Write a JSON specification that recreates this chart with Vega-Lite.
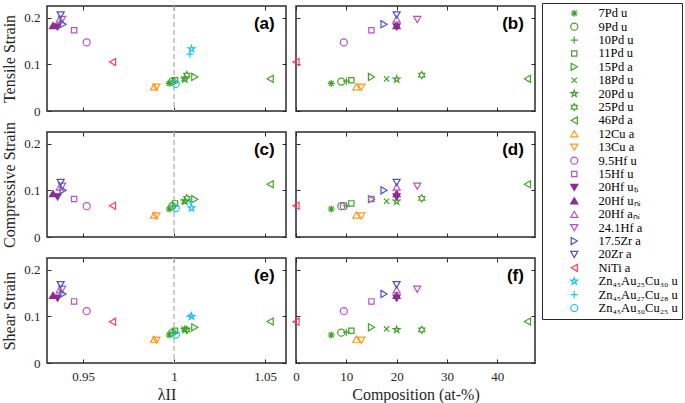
{
  "$schema": "https://vega.github.io/schema/vega-lite/v6.json",
  "padding": {"left": 0, "top": 2, "right": 0, "bottom": 0},
  "background": "white",
  "data": {"values": [
    {"series": "7Pd u", "lambda": 0.9973, "comp": 7, "tensile": 0.059, "compressive": 0.060, "shear": 0.060},
    {"series": "9Pd u", "lambda": 0.9990, "comp": 9, "tensile": 0.063, "compressive": 0.066, "shear": 0.065},
    {"series": "10Pd u", "lambda": 0.9995, "comp": 10, "tensile": 0.064, "compressive": 0.067, "shear": 0.066},
    {"series": "11Pd u", "lambda": 1.0005, "comp": 11, "tensile": 0.066, "compressive": 0.072, "shear": 0.069},
    {"series": "15Pd a", "lambda": 1.0114, "comp": 15, "tensile": 0.073, "compressive": 0.081, "shear": 0.0765},
    {"series": "18Pd u", "lambda": 1.0055, "comp": 18, "tensile": 0.069, "compressive": 0.0765, "shear": 0.073},
    {"series": "20Pd u", "lambda": 1.006, "comp": 20, "tensile": 0.068, "compressive": 0.0765, "shear": 0.0715},
    {"series": "25Pd u", "lambda": 1.007, "comp": 25, "tensile": 0.077, "compressive": 0.083, "shear": 0.071},
    {"series": "46Pd a", "lambda": 1.0528, "comp": 46, "tensile": 0.069, "compressive": 0.113, "shear": 0.089},
    {"series": "12Cu a", "lambda": 0.989, "comp": 12, "tensile": 0.052, "compressive": 0.047, "shear": 0.051},
    {"series": "13Cu a", "lambda": 0.9903, "comp": 13, "tensile": 0.051, "compressive": 0.045, "shear": 0.049},
    {"series": "9.5Hf u", "lambda": 0.952, "comp": 9.5, "tensile": 0.147, "compressive": 0.066, "shear": 0.111},
    {"series": "15Hf u", "lambda": 0.9451, "comp": 15, "tensile": 0.173, "compressive": 0.0815, "shear": 0.132},
    {"series": "20Hf uₜᵢ", "lambda": 0.936, "comp": 20, "tensile": 0.180, "compressive": 0.086, "shear": 0.139},
    {"series": "20Hf uₙᵢ", "lambda": 0.9335, "comp": 20, "tensile": 0.183, "compressive": 0.093, "shear": 0.145},
    {"series": "20Hf aₙᵢ", "lambda": 0.9372, "comp": 20, "tensile": 0.197, "compressive": 0.107, "shear": 0.157},
    {"series": "24.1Hf a", "lambda": 0.9385, "comp": 24.1, "tensile": 0.196, "compressive": 0.109, "shear": 0.158},
    {"series": "17.5Zr a", "lambda": 0.939, "comp": 17.5, "tensile": 0.186, "compressive": 0.100, "shear": 0.148},
    {"series": "20Zr a", "lambda": 0.9377, "comp": 20, "tensile": 0.206, "compressive": 0.117, "shear": 0.168},
    {"series": "NiTi a", "lambda": 0.9662, "comp": 0, "tensile": 0.105, "compressive": 0.067, "shear": 0.0886},
    {"series": "Zn₄₅Au₂₅Cu₃₀ u", "lambda": 1.0096, "comp": null, "tensile": 0.133, "compressive": 0.062, "shear": 0.100},
    {"series": "Zn₄₅Au₂₇Cu₂₈ u", "lambda": 1.0088, "comp": null, "tensile": 0.122, "compressive": 0.076, "shear": 0.100},
    {"series": "Zn₄₅Au₃₀Cu₂₅ u", "lambda": 1.001, "comp": null, "tensile": 0.058, "compressive": 0.062, "shear": 0.061}
  ]},
  "spacing": 1,
  "hconcat": [
    {
      "spacing": 21,
      "bounds": "flush",
      "vconcat": [
        {
          "width": 239, "height": 105,
          "layer": [
            {"data": {"values": [{}]}, "mark": {"type": "rule", "color": "#bcbcbc", "strokeWidth": 1.5, "strokeDash": [5, 3]},
             "encoding": {"x": {"datum": 1, "type": "quantitative", "scale": {"domain": [0.9302, 1.0615], "nice": false, "zero": false}, "axis": null}}},
            {"mark": {"type": "point", "size": 50, "strokeWidth": 1.2, "opacity": 1},
             "encoding": {
               "x": {"field": "lambda", "type": "quantitative", "scale": {"domain": [0.9302, 1.0615], "nice": false, "zero": false}, "axis": {"values": [0.95, 1, 1.05], "labels": false, "title": null}},
               "y": {"field": "tensile", "type": "quantitative", "scale": {"domain": [0, 0.225], "nice": false}, "axis": {"values": [0, 0.1, 0.2], "format": "~g", "title": "Tensile Strain"}},
               "shape": {"field": "series", "type": "nominal", "scale": {"domain": ["7Pd u","9Pd u","10Pd u","11Pd u","15Pd a","18Pd u","20Pd u","25Pd u","46Pd a","12Cu a","13Cu a","9.5Hf u","15Hf u","20Hf uₜᵢ","20Hf uₙᵢ","20Hf aₙᵢ","24.1Hf a","17.5Zr a","20Zr a","NiTi a","Zn₄₅Au₂₅Cu₃₀ u","Zn₄₅Au₂₇Cu₂₈ u","Zn₄₅Au₃₀Cu₂₅ u"], "range": ["M-1,0L1,0M0,-1L0,1M-0.7,-0.7L0.7,0.7M-0.7,0.7L0.7,-0.7","circle","M-1,0L1,0M0,-1L0,1","M-0.75,-0.75L0.75,-0.75L0.75,0.75L-0.75,0.75Z","triangle-right","M-0.75,-0.75L0.75,0.75M-0.75,0.75L0.75,-0.75","M0,-1L0.225,-0.309L0.951,-0.309L0.363,0.118L0.588,0.809L0,0.382L-0.588,0.809L-0.363,0.118L-0.951,-0.309L-0.225,-0.309Z","M0,-1L0.289,-0.5L0.866,-0.5L0.577,0L0.866,0.5L0.289,0.5L0,1L-0.289,0.5L-0.866,0.5L-0.577,0L-0.866,-0.5L-0.289,-0.5Z","triangle-left","triangle-up","triangle-down","circle","M-0.75,-0.75L0.75,-0.75L0.75,0.75L-0.75,0.75Z","triangle-down","triangle-up","triangle-up","triangle-down","triangle-right","triangle-down","triangle-left","M0,-1L0.225,-0.309L0.951,-0.309L0.363,0.118L0.588,0.809L0,0.382L-0.588,0.809L-0.363,0.118L-0.951,-0.309L-0.225,-0.309Z","M-1,0L1,0M0,-1L0,1","circle"]},
                 "legend": {"title": null, "orient": "none", "legendX": 495, "legendY": -3, "padding": 4, "symbolOffset": 22, "labelOffset": 18, "rowPadding": 0.4, "labelFont": "Liberation Serif", "labelFontSize": 12.5, "labelColor": "#000000", "symbolSize": 50, "symbolStrokeWidth": 1.2, "strokeColor": "#262626", "fillColor": "#ffffff", "symbolLimit": 50, "labelLimit": 200}},
               "stroke": {"field": "series", "type": "nominal", "scale": {"domain": ["7Pd u","9Pd u","10Pd u","11Pd u","15Pd a","18Pd u","20Pd u","25Pd u","46Pd a","12Cu a","13Cu a","9.5Hf u","15Hf u","20Hf uₜᵢ","20Hf uₙᵢ","20Hf aₙᵢ","24.1Hf a","17.5Zr a","20Zr a","NiTi a","Zn₄₅Au₂₅Cu₃₀ u","Zn₄₅Au₂₇Cu₂₈ u","Zn₄₅Au₃₀Cu₂₅ u"], "range": ["#43a42b","#43a42b","#43a42b","#43a42b","#43a42b","#43a42b","#43a42b","#43a42b","#43a42b","#ff9b1c","#ff9b1c","#b554bd","#b554bd","#8f2b92","#8f2b92","#b554bd","#b554bd","#4f4fcc","#4f4fcc","#ff3d5e","#22c2f0","#22c2f0","#22c2f0"]},
                 "legend": {"title": null, "orient": "none", "legendX": 495, "legendY": -3, "padding": 4, "symbolOffset": 22, "labelOffset": 18, "rowPadding": 0.4, "labelFont": "Liberation Serif", "labelFontSize": 12.5, "labelColor": "#000000", "symbolSize": 50, "symbolStrokeWidth": 1.2, "strokeColor": "#262626", "fillColor": "#ffffff", "symbolLimit": 50, "labelLimit": 200}},
               "fill": {"field": "series", "type": "nominal", "scale": {"domain": ["7Pd u","9Pd u","10Pd u","11Pd u","15Pd a","18Pd u","20Pd u","25Pd u","46Pd a","12Cu a","13Cu a","9.5Hf u","15Hf u","20Hf uₜᵢ","20Hf uₙᵢ","20Hf aₙᵢ","24.1Hf a","17.5Zr a","20Zr a","NiTi a","Zn₄₅Au₂₅Cu₃₀ u","Zn₄₅Au₂₇Cu₂₈ u","Zn₄₅Au₃₀Cu₂₅ u"], "range": ["transparent","transparent","transparent","transparent","transparent","transparent","transparent","transparent","transparent","transparent","transparent","transparent","transparent","#8f2b92","#8f2b92","transparent","transparent","transparent","transparent","transparent","transparent","transparent","transparent"]},
                 "legend": {"title": null, "orient": "none", "legendX": 495, "legendY": -3, "padding": 4, "symbolOffset": 22, "labelOffset": 18, "rowPadding": 0.4, "labelFont": "Liberation Serif", "labelFontSize": 12.5, "labelColor": "#000000", "symbolSize": 50, "symbolStrokeWidth": 1.2, "strokeColor": "#262626", "fillColor": "#ffffff", "symbolLimit": 50, "labelLimit": 200}}
             }},
            {"data": {"values": [{}]}, "mark": {"type": "text", "text": "(a)", "font": "Liberation Sans", "fontWeight": "bold", "fontSize": 17, "align": "right", "baseline": "middle", "color": "#000000"},
             "encoding": {
               "x": {"datum": 1.0553, "type": "quantitative", "scale": {"domain": [0.9302, 1.0615], "nice": false, "zero": false}, "axis": {"orient": "top", "values": [0.95, 1, 1.05], "labels": false, "title": null}},
               "y": {"datum": 0.186, "type": "quantitative", "scale": {"domain": [0, 0.225], "nice": false}, "axis": {"orient": "right", "values": [0, 0.1, 0.2], "labels": false, "title": null}}}}
          ],
          "resolve": {"axis": {"x": "independent", "y": "independent"}}
        },
        {
          "width": 239, "height": 105,
          "layer": [
            {"data": {"values": [{}]}, "mark": {"type": "rule", "color": "#bcbcbc", "strokeWidth": 1.5, "strokeDash": [5, 3]},
             "encoding": {"x": {"datum": 1, "type": "quantitative", "scale": {"domain": [0.9302, 1.0615], "nice": false, "zero": false}, "axis": null}}},
            {"mark": {"type": "point", "size": 50, "strokeWidth": 1.2, "opacity": 1},
             "encoding": {
               "x": {"field": "lambda", "type": "quantitative", "scale": {"domain": [0.9302, 1.0615], "nice": false, "zero": false}, "axis": {"values": [0.95, 1, 1.05], "labels": false, "title": null}},
               "y": {"field": "compressive", "type": "quantitative", "scale": {"domain": [0, 0.225], "nice": false}, "axis": {"values": [0, 0.1, 0.2], "format": "~g", "title": "Compressive Strain"}},
               "shape": {"field": "series", "type": "nominal", "scale": {"domain": ["7Pd u","9Pd u","10Pd u","11Pd u","15Pd a","18Pd u","20Pd u","25Pd u","46Pd a","12Cu a","13Cu a","9.5Hf u","15Hf u","20Hf uₜᵢ","20Hf uₙᵢ","20Hf aₙᵢ","24.1Hf a","17.5Zr a","20Zr a","NiTi a","Zn₄₅Au₂₅Cu₃₀ u","Zn₄₅Au₂₇Cu₂₈ u","Zn₄₅Au₃₀Cu₂₅ u"], "range": ["M-1,0L1,0M0,-1L0,1M-0.7,-0.7L0.7,0.7M-0.7,0.7L0.7,-0.7","circle","M-1,0L1,0M0,-1L0,1","M-0.75,-0.75L0.75,-0.75L0.75,0.75L-0.75,0.75Z","triangle-right","M-0.75,-0.75L0.75,0.75M-0.75,0.75L0.75,-0.75","M0,-1L0.225,-0.309L0.951,-0.309L0.363,0.118L0.588,0.809L0,0.382L-0.588,0.809L-0.363,0.118L-0.951,-0.309L-0.225,-0.309Z","M0,-1L0.289,-0.5L0.866,-0.5L0.577,0L0.866,0.5L0.289,0.5L0,1L-0.289,0.5L-0.866,0.5L-0.577,0L-0.866,-0.5L-0.289,-0.5Z","triangle-left","triangle-up","triangle-down","circle","M-0.75,-0.75L0.75,-0.75L0.75,0.75L-0.75,0.75Z","triangle-down","triangle-up","triangle-up","triangle-down","triangle-right","triangle-down","triangle-left","M0,-1L0.225,-0.309L0.951,-0.309L0.363,0.118L0.588,0.809L0,0.382L-0.588,0.809L-0.363,0.118L-0.951,-0.309L-0.225,-0.309Z","M-1,0L1,0M0,-1L0,1","circle"]}, "legend": null},
               "stroke": {"field": "series", "type": "nominal", "scale": {"domain": ["7Pd u","9Pd u","10Pd u","11Pd u","15Pd a","18Pd u","20Pd u","25Pd u","46Pd a","12Cu a","13Cu a","9.5Hf u","15Hf u","20Hf uₜᵢ","20Hf uₙᵢ","20Hf aₙᵢ","24.1Hf a","17.5Zr a","20Zr a","NiTi a","Zn₄₅Au₂₅Cu₃₀ u","Zn₄₅Au₂₇Cu₂₈ u","Zn₄₅Au₃₀Cu₂₅ u"], "range": ["#43a42b","#43a42b","#43a42b","#43a42b","#43a42b","#43a42b","#43a42b","#43a42b","#43a42b","#ff9b1c","#ff9b1c","#b554bd","#b554bd","#8f2b92","#8f2b92","#b554bd","#b554bd","#4f4fcc","#4f4fcc","#ff3d5e","#22c2f0","#22c2f0","#22c2f0"]}, "legend": null},
               "fill": {"field": "series", "type": "nominal", "scale": {"domain": ["7Pd u","9Pd u","10Pd u","11Pd u","15Pd a","18Pd u","20Pd u","25Pd u","46Pd a","12Cu a","13Cu a","9.5Hf u","15Hf u","20Hf uₜᵢ","20Hf uₙᵢ","20Hf aₙᵢ","24.1Hf a","17.5Zr a","20Zr a","NiTi a","Zn₄₅Au₂₅Cu₃₀ u","Zn₄₅Au₂₇Cu₂₈ u","Zn₄₅Au₃₀Cu₂₅ u"], "range": ["transparent","transparent","transparent","transparent","transparent","transparent","transparent","transparent","transparent","transparent","transparent","transparent","transparent","#8f2b92","#8f2b92","transparent","transparent","transparent","transparent","transparent","transparent","transparent","transparent"]}, "legend": null}
             }},
            {"data": {"values": [{}]}, "mark": {"type": "text", "text": "(c)", "font": "Liberation Sans", "fontWeight": "bold", "fontSize": 17, "align": "right", "baseline": "middle", "color": "#000000"},
             "encoding": {
               "x": {"datum": 1.0553, "type": "quantitative", "scale": {"domain": [0.9302, 1.0615], "nice": false, "zero": false}, "axis": {"orient": "top", "values": [0.95, 1, 1.05], "labels": false, "title": null}},
               "y": {"datum": 0.186, "type": "quantitative", "scale": {"domain": [0, 0.225], "nice": false}, "axis": {"orient": "right", "values": [0, 0.1, 0.2], "labels": false, "title": null}}}}
          ],
          "resolve": {"axis": {"x": "independent", "y": "independent"}}
        },
        {
          "width": 239, "height": 105,
          "layer": [
            {"data": {"values": [{}]}, "mark": {"type": "rule", "color": "#bcbcbc", "strokeWidth": 1.5, "strokeDash": [5, 3]},
             "encoding": {"x": {"datum": 1, "type": "quantitative", "scale": {"domain": [0.9302, 1.0615], "nice": false, "zero": false}, "axis": null}}},
            {"mark": {"type": "point", "size": 50, "strokeWidth": 1.2, "opacity": 1},
             "encoding": {
               "x": {"field": "lambda", "type": "quantitative", "scale": {"domain": [0.9302, 1.0615], "nice": false, "zero": false}, "axis": {"values": [0.95, 1, 1.05], "format": "~g", "title": "λII"}},
               "y": {"field": "shear", "type": "quantitative", "scale": {"domain": [0, 0.225], "nice": false}, "axis": {"values": [0, 0.1, 0.2], "format": "~g", "title": "Shear Strain"}},
               "shape": {"field": "series", "type": "nominal", "scale": {"domain": ["7Pd u","9Pd u","10Pd u","11Pd u","15Pd a","18Pd u","20Pd u","25Pd u","46Pd a","12Cu a","13Cu a","9.5Hf u","15Hf u","20Hf uₜᵢ","20Hf uₙᵢ","20Hf aₙᵢ","24.1Hf a","17.5Zr a","20Zr a","NiTi a","Zn₄₅Au₂₅Cu₃₀ u","Zn₄₅Au₂₇Cu₂₈ u","Zn₄₅Au₃₀Cu₂₅ u"], "range": ["M-1,0L1,0M0,-1L0,1M-0.7,-0.7L0.7,0.7M-0.7,0.7L0.7,-0.7","circle","M-1,0L1,0M0,-1L0,1","M-0.75,-0.75L0.75,-0.75L0.75,0.75L-0.75,0.75Z","triangle-right","M-0.75,-0.75L0.75,0.75M-0.75,0.75L0.75,-0.75","M0,-1L0.225,-0.309L0.951,-0.309L0.363,0.118L0.588,0.809L0,0.382L-0.588,0.809L-0.363,0.118L-0.951,-0.309L-0.225,-0.309Z","M0,-1L0.289,-0.5L0.866,-0.5L0.577,0L0.866,0.5L0.289,0.5L0,1L-0.289,0.5L-0.866,0.5L-0.577,0L-0.866,-0.5L-0.289,-0.5Z","triangle-left","triangle-up","triangle-down","circle","M-0.75,-0.75L0.75,-0.75L0.75,0.75L-0.75,0.75Z","triangle-down","triangle-up","triangle-up","triangle-down","triangle-right","triangle-down","triangle-left","M0,-1L0.225,-0.309L0.951,-0.309L0.363,0.118L0.588,0.809L0,0.382L-0.588,0.809L-0.363,0.118L-0.951,-0.309L-0.225,-0.309Z","M-1,0L1,0M0,-1L0,1","circle"]}, "legend": null},
               "stroke": {"field": "series", "type": "nominal", "scale": {"domain": ["7Pd u","9Pd u","10Pd u","11Pd u","15Pd a","18Pd u","20Pd u","25Pd u","46Pd a","12Cu a","13Cu a","9.5Hf u","15Hf u","20Hf uₜᵢ","20Hf uₙᵢ","20Hf aₙᵢ","24.1Hf a","17.5Zr a","20Zr a","NiTi a","Zn₄₅Au₂₅Cu₃₀ u","Zn₄₅Au₂₇Cu₂₈ u","Zn₄₅Au₃₀Cu₂₅ u"], "range": ["#43a42b","#43a42b","#43a42b","#43a42b","#43a42b","#43a42b","#43a42b","#43a42b","#43a42b","#ff9b1c","#ff9b1c","#b554bd","#b554bd","#8f2b92","#8f2b92","#b554bd","#b554bd","#4f4fcc","#4f4fcc","#ff3d5e","#22c2f0","#22c2f0","#22c2f0"]}, "legend": null},
               "fill": {"field": "series", "type": "nominal", "scale": {"domain": ["7Pd u","9Pd u","10Pd u","11Pd u","15Pd a","18Pd u","20Pd u","25Pd u","46Pd a","12Cu a","13Cu a","9.5Hf u","15Hf u","20Hf uₜᵢ","20Hf uₙᵢ","20Hf aₙᵢ","24.1Hf a","17.5Zr a","20Zr a","NiTi a","Zn₄₅Au₂₅Cu₃₀ u","Zn₄₅Au₂₇Cu₂₈ u","Zn₄₅Au₃₀Cu₂₅ u"], "range": ["transparent","transparent","transparent","transparent","transparent","transparent","transparent","transparent","transparent","transparent","transparent","transparent","transparent","#8f2b92","#8f2b92","transparent","transparent","transparent","transparent","transparent","transparent","transparent","transparent"]}, "legend": null}
             }},
            {"data": {"values": [{}]}, "mark": {"type": "text", "text": "(e)", "font": "Liberation Sans", "fontWeight": "bold", "fontSize": 17, "align": "right", "baseline": "middle", "color": "#000000"},
             "encoding": {
               "x": {"datum": 1.0553, "type": "quantitative", "scale": {"domain": [0.9302, 1.0615], "nice": false, "zero": false}, "axis": {"orient": "top", "values": [0.95, 1, 1.05], "labels": false, "title": null}},
               "y": {"datum": 0.186, "type": "quantitative", "scale": {"domain": [0, 0.225], "nice": false}, "axis": {"orient": "right", "values": [0, 0.1, 0.2], "labels": false, "title": null}}}}
          ],
          "resolve": {"axis": {"x": "independent", "y": "independent"}}
        }
      ]
    },
    {
      "spacing": 21,
      "bounds": "flush",
      "vconcat": [
        {
          "width": 239, "height": 105,
          "layer": [
            {"mark": {"type": "point", "size": 50, "strokeWidth": 1.2, "opacity": 1},
             "encoding": {
               "x": {"field": "comp", "type": "quantitative", "scale": {"domain": [0, 47.5], "nice": false, "zero": false}, "axis": {"values": [0, 10, 20, 30, 40], "labels": false, "title": null}},
               "y": {"field": "tensile", "type": "quantitative", "scale": {"domain": [0, 0.225], "nice": false}, "axis": {"values": [0, 0.1, 0.2], "labels": false, "title": null}},
               "shape": {"field": "series", "type": "nominal", "scale": {"domain": ["7Pd u","9Pd u","10Pd u","11Pd u","15Pd a","18Pd u","20Pd u","25Pd u","46Pd a","12Cu a","13Cu a","9.5Hf u","15Hf u","20Hf uₜᵢ","20Hf uₙᵢ","20Hf aₙᵢ","24.1Hf a","17.5Zr a","20Zr a","NiTi a","Zn₄₅Au₂₅Cu₃₀ u","Zn₄₅Au₂₇Cu₂₈ u","Zn₄₅Au₃₀Cu₂₅ u"], "range": ["M-1,0L1,0M0,-1L0,1M-0.7,-0.7L0.7,0.7M-0.7,0.7L0.7,-0.7","circle","M-1,0L1,0M0,-1L0,1","M-0.75,-0.75L0.75,-0.75L0.75,0.75L-0.75,0.75Z","triangle-right","M-0.75,-0.75L0.75,0.75M-0.75,0.75L0.75,-0.75","M0,-1L0.225,-0.309L0.951,-0.309L0.363,0.118L0.588,0.809L0,0.382L-0.588,0.809L-0.363,0.118L-0.951,-0.309L-0.225,-0.309Z","M0,-1L0.289,-0.5L0.866,-0.5L0.577,0L0.866,0.5L0.289,0.5L0,1L-0.289,0.5L-0.866,0.5L-0.577,0L-0.866,-0.5L-0.289,-0.5Z","triangle-left","triangle-up","triangle-down","circle","M-0.75,-0.75L0.75,-0.75L0.75,0.75L-0.75,0.75Z","triangle-down","triangle-up","triangle-up","triangle-down","triangle-right","triangle-down","triangle-left","M0,-1L0.225,-0.309L0.951,-0.309L0.363,0.118L0.588,0.809L0,0.382L-0.588,0.809L-0.363,0.118L-0.951,-0.309L-0.225,-0.309Z","M-1,0L1,0M0,-1L0,1","circle"]}, "legend": null},
               "stroke": {"field": "series", "type": "nominal", "scale": {"domain": ["7Pd u","9Pd u","10Pd u","11Pd u","15Pd a","18Pd u","20Pd u","25Pd u","46Pd a","12Cu a","13Cu a","9.5Hf u","15Hf u","20Hf uₜᵢ","20Hf uₙᵢ","20Hf aₙᵢ","24.1Hf a","17.5Zr a","20Zr a","NiTi a","Zn₄₅Au₂₅Cu₃₀ u","Zn₄₅Au₂₇Cu₂₈ u","Zn₄₅Au₃₀Cu₂₅ u"], "range": ["#43a42b","#43a42b","#43a42b","#43a42b","#43a42b","#43a42b","#43a42b","#43a42b","#43a42b","#ff9b1c","#ff9b1c","#b554bd","#b554bd","#8f2b92","#8f2b92","#b554bd","#b554bd","#4f4fcc","#4f4fcc","#ff3d5e","#22c2f0","#22c2f0","#22c2f0"]}, "legend": null},
               "fill": {"field": "series", "type": "nominal", "scale": {"domain": ["7Pd u","9Pd u","10Pd u","11Pd u","15Pd a","18Pd u","20Pd u","25Pd u","46Pd a","12Cu a","13Cu a","9.5Hf u","15Hf u","20Hf uₜᵢ","20Hf uₙᵢ","20Hf aₙᵢ","24.1Hf a","17.5Zr a","20Zr a","NiTi a","Zn₄₅Au₂₅Cu₃₀ u","Zn₄₅Au₂₇Cu₂₈ u","Zn₄₅Au₃₀Cu₂₅ u"], "range": ["transparent","transparent","transparent","transparent","transparent","transparent","transparent","transparent","transparent","transparent","transparent","transparent","transparent","#8f2b92","#8f2b92","transparent","transparent","transparent","transparent","transparent","transparent","transparent","transparent"]}, "legend": null}
             }},
            {"data": {"values": [{}]}, "mark": {"type": "text", "text": "(b)", "font": "Liberation Sans", "fontWeight": "bold", "fontSize": 17, "align": "right", "baseline": "middle", "color": "#000000"},
             "encoding": {
               "x": {"datum": 45.3, "type": "quantitative", "scale": {"domain": [0, 47.5], "nice": false, "zero": false}, "axis": {"orient": "top", "values": [0, 10, 20, 30, 40], "labels": false, "title": null}},
               "y": {"datum": 0.186, "type": "quantitative", "scale": {"domain": [0, 0.225], "nice": false}, "axis": {"orient": "right", "values": [0, 0.1, 0.2], "labels": false, "title": null}}}}
          ],
          "resolve": {"axis": {"x": "independent", "y": "independent"}}
        },
        {
          "width": 239, "height": 105,
          "layer": [
            {"mark": {"type": "point", "size": 50, "strokeWidth": 1.2, "opacity": 1},
             "encoding": {
               "x": {"field": "comp", "type": "quantitative", "scale": {"domain": [0, 47.5], "nice": false, "zero": false}, "axis": {"values": [0, 10, 20, 30, 40], "labels": false, "title": null}},
               "y": {"field": "compressive", "type": "quantitative", "scale": {"domain": [0, 0.225], "nice": false}, "axis": {"values": [0, 0.1, 0.2], "labels": false, "title": null}},
               "shape": {"field": "series", "type": "nominal", "scale": {"domain": ["7Pd u","9Pd u","10Pd u","11Pd u","15Pd a","18Pd u","20Pd u","25Pd u","46Pd a","12Cu a","13Cu a","9.5Hf u","15Hf u","20Hf uₜᵢ","20Hf uₙᵢ","20Hf aₙᵢ","24.1Hf a","17.5Zr a","20Zr a","NiTi a","Zn₄₅Au₂₅Cu₃₀ u","Zn₄₅Au₂₇Cu₂₈ u","Zn₄₅Au₃₀Cu₂₅ u"], "range": ["M-1,0L1,0M0,-1L0,1M-0.7,-0.7L0.7,0.7M-0.7,0.7L0.7,-0.7","circle","M-1,0L1,0M0,-1L0,1","M-0.75,-0.75L0.75,-0.75L0.75,0.75L-0.75,0.75Z","triangle-right","M-0.75,-0.75L0.75,0.75M-0.75,0.75L0.75,-0.75","M0,-1L0.225,-0.309L0.951,-0.309L0.363,0.118L0.588,0.809L0,0.382L-0.588,0.809L-0.363,0.118L-0.951,-0.309L-0.225,-0.309Z","M0,-1L0.289,-0.5L0.866,-0.5L0.577,0L0.866,0.5L0.289,0.5L0,1L-0.289,0.5L-0.866,0.5L-0.577,0L-0.866,-0.5L-0.289,-0.5Z","triangle-left","triangle-up","triangle-down","circle","M-0.75,-0.75L0.75,-0.75L0.75,0.75L-0.75,0.75Z","triangle-down","triangle-up","triangle-up","triangle-down","triangle-right","triangle-down","triangle-left","M0,-1L0.225,-0.309L0.951,-0.309L0.363,0.118L0.588,0.809L0,0.382L-0.588,0.809L-0.363,0.118L-0.951,-0.309L-0.225,-0.309Z","M-1,0L1,0M0,-1L0,1","circle"]}, "legend": null},
               "stroke": {"field": "series", "type": "nominal", "scale": {"domain": ["7Pd u","9Pd u","10Pd u","11Pd u","15Pd a","18Pd u","20Pd u","25Pd u","46Pd a","12Cu a","13Cu a","9.5Hf u","15Hf u","20Hf uₜᵢ","20Hf uₙᵢ","20Hf aₙᵢ","24.1Hf a","17.5Zr a","20Zr a","NiTi a","Zn₄₅Au₂₅Cu₃₀ u","Zn₄₅Au₂₇Cu₂₈ u","Zn₄₅Au₃₀Cu₂₅ u"], "range": ["#43a42b","#43a42b","#43a42b","#43a42b","#43a42b","#43a42b","#43a42b","#43a42b","#43a42b","#ff9b1c","#ff9b1c","#b554bd","#b554bd","#8f2b92","#8f2b92","#b554bd","#b554bd","#4f4fcc","#4f4fcc","#ff3d5e","#22c2f0","#22c2f0","#22c2f0"]}, "legend": null},
               "fill": {"field": "series", "type": "nominal", "scale": {"domain": ["7Pd u","9Pd u","10Pd u","11Pd u","15Pd a","18Pd u","20Pd u","25Pd u","46Pd a","12Cu a","13Cu a","9.5Hf u","15Hf u","20Hf uₜᵢ","20Hf uₙᵢ","20Hf aₙᵢ","24.1Hf a","17.5Zr a","20Zr a","NiTi a","Zn₄₅Au₂₅Cu₃₀ u","Zn₄₅Au₂₇Cu₂₈ u","Zn₄₅Au₃₀Cu₂₅ u"], "range": ["transparent","transparent","transparent","transparent","transparent","transparent","transparent","transparent","transparent","transparent","transparent","transparent","transparent","#8f2b92","#8f2b92","transparent","transparent","transparent","transparent","transparent","transparent","transparent","transparent"]}, "legend": null}
             }},
            {"data": {"values": [{}]}, "mark": {"type": "text", "text": "(d)", "font": "Liberation Sans", "fontWeight": "bold", "fontSize": 17, "align": "right", "baseline": "middle", "color": "#000000"},
             "encoding": {
               "x": {"datum": 45.3, "type": "quantitative", "scale": {"domain": [0, 47.5], "nice": false, "zero": false}, "axis": {"orient": "top", "values": [0, 10, 20, 30, 40], "labels": false, "title": null}},
               "y": {"datum": 0.186, "type": "quantitative", "scale": {"domain": [0, 0.225], "nice": false}, "axis": {"orient": "right", "values": [0, 0.1, 0.2], "labels": false, "title": null}}}}
          ],
          "resolve": {"axis": {"x": "independent", "y": "independent"}}
        },
        {
          "width": 239, "height": 105,
          "layer": [
            {"mark": {"type": "point", "size": 50, "strokeWidth": 1.2, "opacity": 1},
             "encoding": {
               "x": {"field": "comp", "type": "quantitative", "scale": {"domain": [0, 47.5], "nice": false, "zero": false}, "axis": {"values": [0, 10, 20, 30, 40], "format": "d", "title": "Composition (at-%)"}},
               "y": {"field": "shear", "type": "quantitative", "scale": {"domain": [0, 0.225], "nice": false}, "axis": {"values": [0, 0.1, 0.2], "labels": false, "title": null}},
               "shape": {"field": "series", "type": "nominal", "scale": {"domain": ["7Pd u","9Pd u","10Pd u","11Pd u","15Pd a","18Pd u","20Pd u","25Pd u","46Pd a","12Cu a","13Cu a","9.5Hf u","15Hf u","20Hf uₜᵢ","20Hf uₙᵢ","20Hf aₙᵢ","24.1Hf a","17.5Zr a","20Zr a","NiTi a","Zn₄₅Au₂₅Cu₃₀ u","Zn₄₅Au₂₇Cu₂₈ u","Zn₄₅Au₃₀Cu₂₅ u"], "range": ["M-1,0L1,0M0,-1L0,1M-0.7,-0.7L0.7,0.7M-0.7,0.7L0.7,-0.7","circle","M-1,0L1,0M0,-1L0,1","M-0.75,-0.75L0.75,-0.75L0.75,0.75L-0.75,0.75Z","triangle-right","M-0.75,-0.75L0.75,0.75M-0.75,0.75L0.75,-0.75","M0,-1L0.225,-0.309L0.951,-0.309L0.363,0.118L0.588,0.809L0,0.382L-0.588,0.809L-0.363,0.118L-0.951,-0.309L-0.225,-0.309Z","M0,-1L0.289,-0.5L0.866,-0.5L0.577,0L0.866,0.5L0.289,0.5L0,1L-0.289,0.5L-0.866,0.5L-0.577,0L-0.866,-0.5L-0.289,-0.5Z","triangle-left","triangle-up","triangle-down","circle","M-0.75,-0.75L0.75,-0.75L0.75,0.75L-0.75,0.75Z","triangle-down","triangle-up","triangle-up","triangle-down","triangle-right","triangle-down","triangle-left","M0,-1L0.225,-0.309L0.951,-0.309L0.363,0.118L0.588,0.809L0,0.382L-0.588,0.809L-0.363,0.118L-0.951,-0.309L-0.225,-0.309Z","M-1,0L1,0M0,-1L0,1","circle"]}, "legend": null},
               "stroke": {"field": "series", "type": "nominal", "scale": {"domain": ["7Pd u","9Pd u","10Pd u","11Pd u","15Pd a","18Pd u","20Pd u","25Pd u","46Pd a","12Cu a","13Cu a","9.5Hf u","15Hf u","20Hf uₜᵢ","20Hf uₙᵢ","20Hf aₙᵢ","24.1Hf a","17.5Zr a","20Zr a","NiTi a","Zn₄₅Au₂₅Cu₃₀ u","Zn₄₅Au₂₇Cu₂₈ u","Zn₄₅Au₃₀Cu₂₅ u"], "range": ["#43a42b","#43a42b","#43a42b","#43a42b","#43a42b","#43a42b","#43a42b","#43a42b","#43a42b","#ff9b1c","#ff9b1c","#b554bd","#b554bd","#8f2b92","#8f2b92","#b554bd","#b554bd","#4f4fcc","#4f4fcc","#ff3d5e","#22c2f0","#22c2f0","#22c2f0"]}, "legend": null},
               "fill": {"field": "series", "type": "nominal", "scale": {"domain": ["7Pd u","9Pd u","10Pd u","11Pd u","15Pd a","18Pd u","20Pd u","25Pd u","46Pd a","12Cu a","13Cu a","9.5Hf u","15Hf u","20Hf uₜᵢ","20Hf uₙᵢ","20Hf aₙᵢ","24.1Hf a","17.5Zr a","20Zr a","NiTi a","Zn₄₅Au₂₅Cu₃₀ u","Zn₄₅Au₂₇Cu₂₈ u","Zn₄₅Au₃₀Cu₂₅ u"], "range": ["transparent","transparent","transparent","transparent","transparent","transparent","transparent","transparent","transparent","transparent","transparent","transparent","transparent","#8f2b92","#8f2b92","transparent","transparent","transparent","transparent","transparent","transparent","transparent","transparent"]}, "legend": null}
             }},
            {"data": {"values": [{}]}, "mark": {"type": "text", "text": "(f)", "font": "Liberation Sans", "fontWeight": "bold", "fontSize": 17, "align": "right", "baseline": "middle", "color": "#000000"},
             "encoding": {
               "x": {"datum": 45.3, "type": "quantitative", "scale": {"domain": [0, 47.5], "nice": false, "zero": false}, "axis": {"orient": "top", "values": [0, 10, 20, 30, 40], "labels": false, "title": null}},
               "y": {"datum": 0.186, "type": "quantitative", "scale": {"domain": [0, 0.225], "nice": false}, "axis": {"orient": "right", "values": [0, 0.1, 0.2], "labels": false, "title": null}}}}
          ],
          "resolve": {"axis": {"x": "independent", "y": "independent"}}
        }
      ]
    }
  ],
  "config": {
    "font": "Liberation Serif",
    "view": {"stroke": "#2b2b2b", "strokeWidth": 1.5},
    "axis": {"domain": false, "grid": false, "tickSize": -4, "tickColor": "#2b2b2b", "tickWidth": 1, "labelFlush": false, "labelFont": "Liberation Serif", "labelFontSize": 13, "labelColor": "#262626", "labelPadding": 11, "titleFont": "Liberation Serif", "titleFontSize": 16, "titleFontWeight": "normal", "titleColor": "#262626"},
    "axisX": {"titlePadding": 3, "labelFont": "Liberation Serif", "titleFont": "Liberation Serif"},
    "axisY": {"titlePadding": 6}
  }
}
